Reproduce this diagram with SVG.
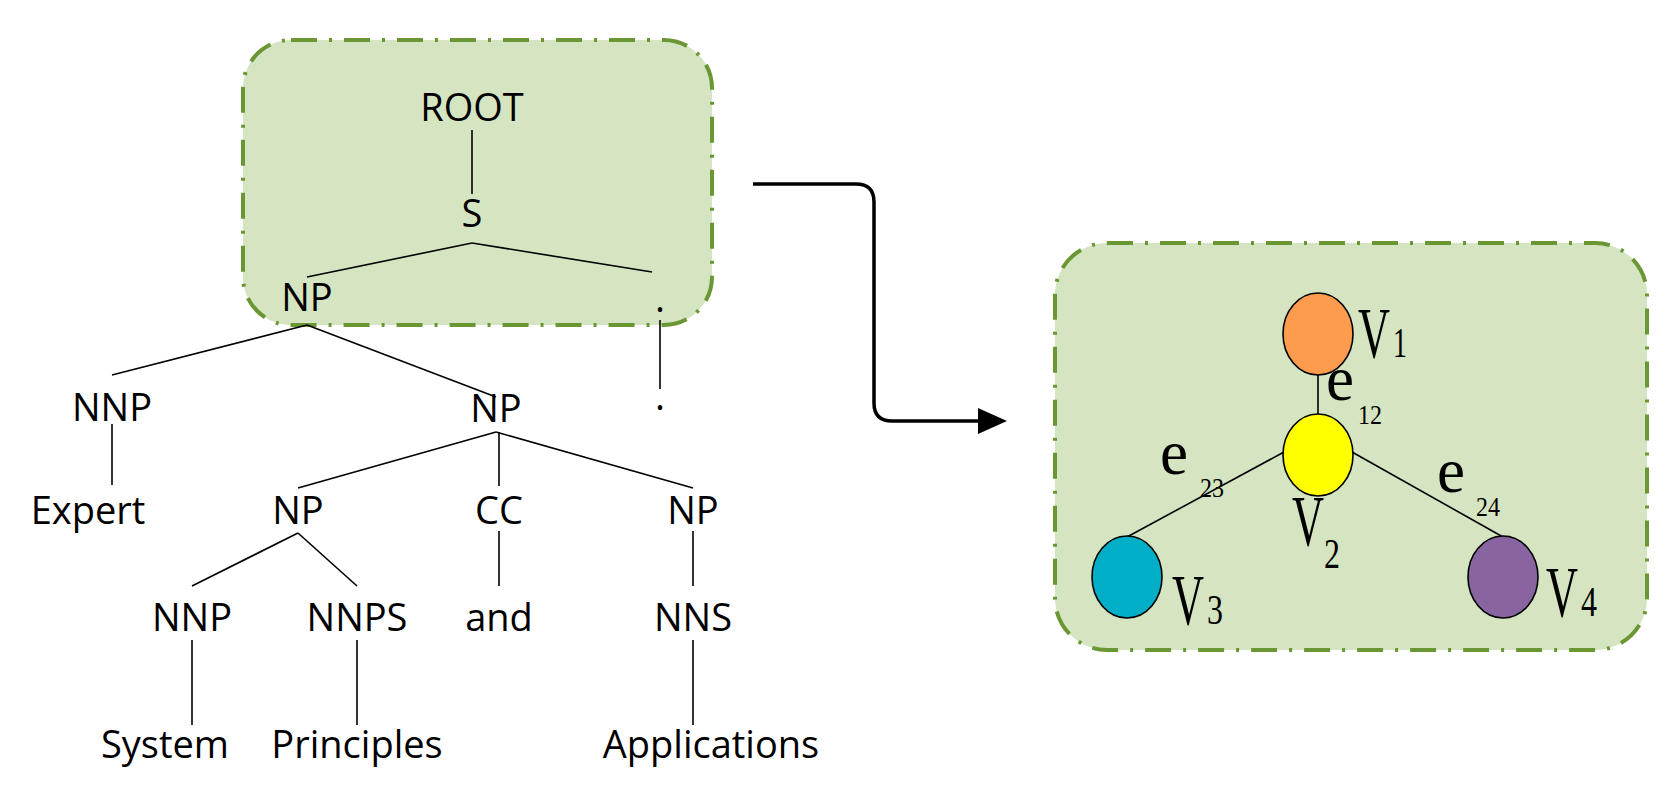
<svg xmlns="http://www.w3.org/2000/svg" width="1672" height="800" viewBox="0 0 1672 800">
<style>
.box{fill:#d5e4c1;stroke:#6a9734;stroke-width:4;stroke-dasharray:26 12 3 12}
.t{font-family:"Open Sans","Liberation Sans",sans-serif;font-size:38px;text-anchor:middle;fill:#000}
.e line{stroke:#000;stroke-width:1.6}
.m{font-family:"Liberation Serif",serif;fill:#000}
.v{font-size:72px}
.s{font-size:42px}
.ee{font-size:64px}
.ss{font-size:28px}
ellipse{stroke:#000;stroke-width:1.6}
</style>
<rect class="box" x="243" y="40" width="469" height="285" rx="48"/>
<rect class="box" x="1055" y="243" width="592" height="407" rx="52"/>
<g class="e" id="connectors">
<line x1="472" y1="130" x2="472" y2="194"/>
<line x1="472" y1="243" x2="307" y2="277"/>
<line x1="472" y1="243" x2="652" y2="272"/>
<line x1="660" y1="320" x2="660" y2="389"/>
<line x1="307" y1="325" x2="112" y2="375"/>
<line x1="307" y1="325" x2="496" y2="397"/>
<line x1="112" y1="424" x2="112" y2="485"/>
<line x1="496" y1="432" x2="298" y2="488"/>
<line x1="499" y1="432" x2="499" y2="486"/>
<line x1="496" y1="432" x2="693" y2="488"/>
<line x1="298" y1="533" x2="192" y2="586"/>
<line x1="298" y1="533" x2="357" y2="586"/>
<line x1="499" y1="531" x2="499" y2="586"/>
<line x1="693" y1="531" x2="693" y2="586"/>
<line x1="192" y1="640" x2="192" y2="725"/>
<line x1="357" y1="640" x2="357" y2="725"/>
<line x1="693" y1="640" x2="693" y2="725"/>
<line x1="1318" y1="375" x2="1318" y2="414"/>
<line x1="1284" y1="452" x2="1127" y2="537"/>
<line x1="1352" y1="452" x2="1503" y2="537"/>
<path d="M753,184 H856 Q874,184 874,202 V403 Q874,421 892,421 H1000" fill="none" stroke="#000" stroke-width="3.5"/>
<path d="M978,408 L1007,421 L978,434z" fill="#000"/>
</g>
<g id="ROOT"><text class="t" x="472" y="121">ROOT</text></g>
<g id="S"><text class="t" x="472" y="227">S</text></g>
<g id="NP1"><text class="t" x="307" y="311">NP</text></g>
<g id="dot1"><text class="t" x="660" y="312">.</text></g>
<g id="dot2"><text class="t" x="660" y="410">.</text></g>
<g id="NNP1"><text class="t" x="112" y="421">NNP</text></g>
<g id="Expert"><text class="t" x="88" y="524">Expert</text></g>
<g id="NP2"><text class="t" x="496" y="422">NP</text></g>
<g id="NP3"><text class="t" x="298" y="524">NP</text></g>
<g id="CC"><text class="t" x="499" y="524">CC</text></g>
<g id="NP4"><text class="t" x="693" y="524">NP</text></g>
<g id="NNP2"><text class="t" x="192" y="631">NNP</text></g>
<g id="NNPS"><text class="t" x="357" y="631">NNPS</text></g>
<g id="and"><text class="t" x="499" y="631">and</text></g>
<g id="NNS"><text class="t" x="693" y="631">NNS</text></g>
<g id="System"><text class="t" x="165" y="758">System</text></g>
<g id="Principles"><text class="t" x="357" y="758">Principles</text></g>
<g id="Applications"><text class="t" x="711" y="758">Applications</text></g>
<g id="V1"><ellipse cx="1318" cy="334" rx="35" ry="41" fill="#fd9b4f"/><text class="m v" x="1358" y="357" textLength="32" lengthAdjust="spacingAndGlyphs">V</text><text class="m s" x="1393" y="357" textLength="14" lengthAdjust="spacingAndGlyphs">1</text></g>
<g id="V2"><ellipse cx="1318" cy="455" rx="35" ry="41" fill="#ffff00"/><text class="m v" x="1292" y="545" textLength="32" lengthAdjust="spacingAndGlyphs">V</text><text class="m s" x="1324" y="568" textLength="16" lengthAdjust="spacingAndGlyphs">2</text></g>
<g id="V3"><ellipse cx="1127" cy="577" rx="35" ry="41" fill="#00aec8"/><text class="m v" x="1172" y="624" textLength="32" lengthAdjust="spacingAndGlyphs">V</text><text class="m s" x="1207" y="624" textLength="16" lengthAdjust="spacingAndGlyphs">3</text></g>
<g id="V4"><ellipse cx="1503" cy="577" rx="35" ry="41" fill="#8865a1"/><text class="m v" x="1546" y="616" textLength="32" lengthAdjust="spacingAndGlyphs">V</text><text class="m s" x="1581" y="616" textLength="16" lengthAdjust="spacingAndGlyphs">4</text></g>
<g id="labels">
<text class="m ee" x="1326" y="400" textLength="28" lengthAdjust="spacingAndGlyphs">e</text><text class="m ss" x="1358" y="424" textLength="24" lengthAdjust="spacingAndGlyphs">12</text>
<text class="m ee" x="1160" y="474" textLength="28" lengthAdjust="spacingAndGlyphs">e</text><text class="m ss" x="1200" y="497" textLength="24" lengthAdjust="spacingAndGlyphs">23</text>
<text class="m ee" x="1437" y="492" textLength="28" lengthAdjust="spacingAndGlyphs">e</text><text class="m ss" x="1476" y="516" textLength="24" lengthAdjust="spacingAndGlyphs">24</text>
</g>
</svg>
